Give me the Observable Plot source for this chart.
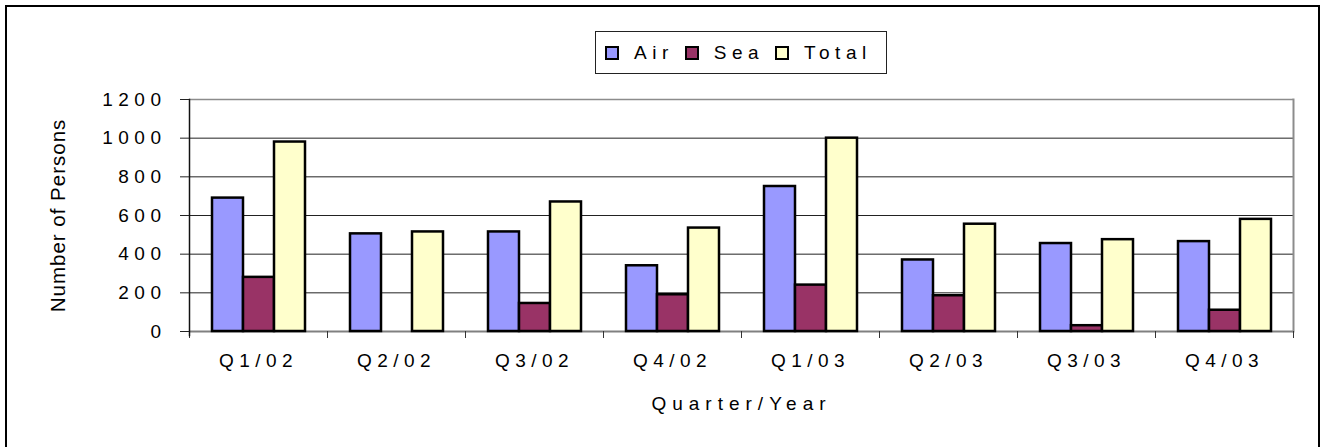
<!DOCTYPE html>
<html>
<head>
<meta charset="utf-8">
<script src="https://cdn.jsdelivr.net/npm/d3@7"></script>
<script src="https://cdn.jsdelivr.net/npm/@observablehq/plot@0.6"></script>
<style>
  html, body { margin: 0; padding: 0; background: #fff; overflow: hidden; }
  #wrap { position: relative; width: 1320px; height: 447px; font-family: "Liberation Sans", Arial, sans-serif; }
  #border { position: absolute; left: 5px; top: 5px; width: 1315px; height: 460px; box-sizing: border-box; border: 2.5px solid #000; pointer-events: none; }
  #legend { position: absolute; left: 595px; top: 31px; width: 292px; height: 43px; box-sizing: border-box; border: 1.5px solid #222; background: #fff; display: flex; align-items: center; padding-left: 9px; }
  .item { display: flex; align-items: center; margin-right: 11px; font-size: 19px; letter-spacing: 5.5px; color: #000; }
  .sw { width: 14px; height: 14px; box-sizing: border-box; border: 2px solid #000; margin-right: 15px; }
  #chart { position: absolute; left: 0; top: 0; }
</style>
</head>
<body>
<div id="wrap">
  <div id="chart"></div>
  <div id="legend"></div>
  <div id="border"></div>
</div>
<script>
const quarters = ["Q1/02", "Q2/02", "Q3/02", "Q4/02", "Q1/03", "Q2/03", "Q3/03", "Q4/03"];
const series = ["Air", "Sea", "Total"];
const air = [690, 505, 515, 340, 750, 370, 455, 465];
const sea = [280, 0, 145, 190, 240, 185, 30, 110];
const total = [980, 515, 670, 535, 1000, 555, 475, 580];
const colors = ["#9999FF", "#993366", "#FFFFCC"];
const yTicks = [0, 200, 400, 600, 800, 1000, 1200];
const yTitle = "Number of Persons";
const xTitle = "Quarter/Year";

const valuesBySeries = {Air: air, Sea: sea, Total: total};
const rows = [];
quarters.forEach((q, i) => {
  series.forEach(s => rows.push({quarter: q, series: s, value: valuesBySeries[s][i]}));
});

const plotHeight = 447 - 99 - 116;

const svg = Plot.plot({
  width: 1320,
  height: 447,
  marginLeft: 189,
  marginRight: 27,
  marginTop: 99,
  marginBottom: 116,
  style: {fontFamily: "'Liberation Sans', Arial, sans-serif", fontSize: "19px", color: "#000", background: "transparent", overflow: "visible"},
  fx: {domain: quarters, padding: 0, label: null},
  x: {domain: series, paddingInner: 0, paddingOuter: 0.72, axis: null},
  y: {domain: [0, 1200], ticks: yTicks, axis: null},
  color: {domain: series, range: colors},
  marks: [
    Plot.gridY(yTicks.filter(t => t > 0 && t < 1200), {stroke: "#222", strokeOpacity: 1, strokeWidth: 1}),
    Plot.ruleY([1200], {stroke: "#8c8c8c", strokeWidth: 1.5}),
    Plot.ruleY([0], {stroke: "#808080", strokeWidth: 2}),
    Plot.barY(rows.filter(d => d.value > 0), {fx: "quarter", x: "series", y: "value", fill: "series", stroke: "#000", strokeWidth: 2.5}),
    Plot.frame({anchor: "left", insetTop: plotHeight, insetBottom: -6, stroke: "#333", strokeWidth: 1}),
    Plot.frame({anchor: "right", facetAnchor: "right", stroke: "#8c8c8c", strokeWidth: 2}),
    Plot.frame({anchor: "right", facetAnchor: "right", insetTop: plotHeight, insetBottom: -6, stroke: "#333", strokeWidth: 1}),
    Plot.frame({anchor: "left", facetAnchor: "left", stroke: "#111", strokeWidth: 1.5, insetBottom: -4}),
    Plot.axisY(yTicks, {anchor: "left", tickSize: 9, tickPadding: 14, stroke: "#222", tickFormat: d => String(d), label: yTitle, labelArrow: "none", labelAnchor: "center", labelOffset: 139}),
    Plot.axisFx({anchor: "bottom", tickSize: 0, tickPadding: 22, label: xTitle, labelArrow: "none", labelAnchor: "center", labelOffset: 78})
  ]
});
document.getElementById("chart").appendChild(svg);

const s = d3.select(svg);
s.selectAll("g[aria-label='y-axis tick label'] text").style("letter-spacing", "5.5px");
s.selectAll("g[aria-label='fx-axis tick label'] text").style("letter-spacing", "5.5px");
s.selectAll("g[aria-label='fx-axis label'] text").style("letter-spacing", "6px")
  .text(function() { return this.textContent.replace(/\s*[→←↑↓]\s*/g, ""); });
s.selectAll("g[aria-label='y-axis label'] text").style("letter-spacing", "1px").style("font-size", "20.5px")
  .text(function() { return this.textContent.replace(/\s*[→←↑↓]\s*/g, ""); });

const legend = d3.select("#legend");
series.forEach((name, i) => {
  const it = legend.append("div").attr("class", "item");
  it.append("div").attr("class", "sw").style("background", colors[i]);
  it.append("span").text(name);
});
</script>
</body>
</html>
